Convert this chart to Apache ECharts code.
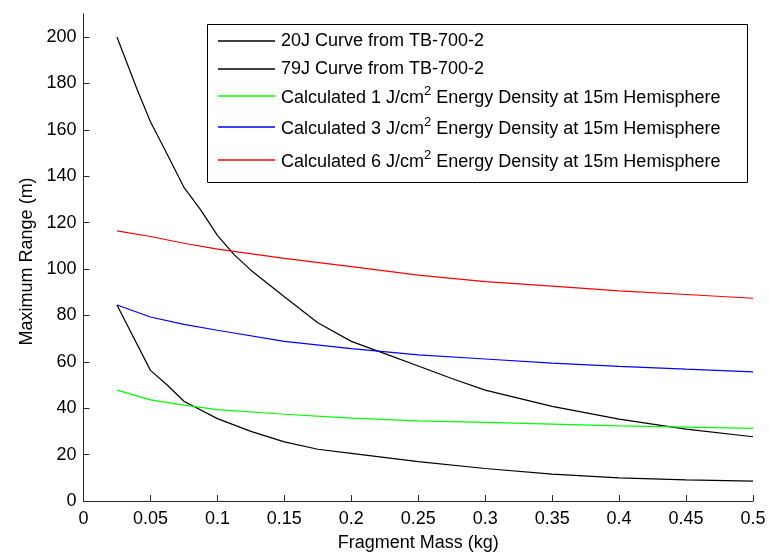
<!DOCTYPE html>
<html>
<head>
<meta charset="utf-8">
<script src="https://cdn.jsdelivr.net/npm/echarts@6/dist/echarts.min.js"></script>
<style>
  html, body { margin: 0; padding: 0; background: #fff; }
  #chart { width: 769px; height: 553px; }
</style>
</head>
<body>
<div id="chart"></div>
<script>
// values
const mass20J = [0.025, 0.04, 0.05, 0.0625, 0.075, 0.0875, 0.1, 0.1125, 0.125, 0.15, 0.175, 0.2, 0.225, 0.25, 0.275, 0.3, 0.35, 0.4, 0.45, 0.5];
const range20J = [200, 177.5, 163.5, 149.5, 135.2, 125.5, 114.5, 106.2, 99.5, 88, 76.8, 68.8, 63.5, 58.2, 52.8, 47.8, 40.8, 35.3, 31, 27.7];

const mass79J = [0.025, 0.05, 0.0625, 0.075, 0.1, 0.125, 0.15, 0.175, 0.2, 0.25, 0.3, 0.35, 0.4, 0.45, 0.5];
const range79J = [84.5, 56.3, 50, 43, 35.5, 30, 25.5, 22.3, 20.5, 17, 14, 11.6, 10, 9.1, 8.6];

const massCalc = [0.025, 0.05, 0.075, 0.1, 0.15, 0.2, 0.25, 0.3, 0.35, 0.4, 0.45, 0.5];
const range1J = [47.8, 43.6, 41.3, 39.4, 37.4, 35.7, 34.5, 33.9, 33.1, 32.4, 31.8, 31.3];
const range3J = [84.5, 79.3, 76.1, 73.6, 68.8, 65.7, 63, 61.2, 59.4, 58, 56.8, 55.7];
const range6J = [116.4, 114, 111.1, 108.6, 104.6, 101, 97.4, 94.6, 92.6, 90.6, 89, 87.4];

const xTicks = [0, 0.05, 0.1, 0.15, 0.2, 0.25, 0.3, 0.35, 0.4, 0.45, 0.5];
const yTicks = [0, 20, 40, 60, 80, 100, 120, 140, 160, 180, 200];

const seriesNames = [
  '20J Curve from TB-700-2',
  '79J Curve from TB-700-2',
  'Calculated 1 J/cm2 Energy Density at 15m Hemisphere',
  'Calculated 3 J/cm2 Energy Density at 15m Hemisphere',
  'Calculated 6 J/cm2 Energy Density at 15m Hemisphere'
];

const zip = (xs, ys) => xs.map((x, i) => [x, ys[i]]);

const font = 'Arial, "Liberation Sans", sans-serif';
const axisColor = '#262626';

const chart = echarts.init(document.getElementById('chart'));

function lineSeries(name, data, color) {
  return {
    name: name,
    type: 'line',
    data: data,
    symbol: 'none',
    silent: true,
    lineStyle: { color: color, width: 1.2 },
    itemStyle: { color: color },
    z: 2
  };
}

// one legend per row so the rows sit where the original ones do
const legendTops = [32, 60, 85, 116, 149];
const legends = seriesNames.map((name, i) => ({
  data: [name],
  left: 218,
  top: legendTops[i],
  orient: 'vertical',
  padding: 0,
  icon: 'rect',
  itemWidth: 57,
  itemHeight: 1.3,
  itemGap: 0,
  z: 6,
  selectedMode: false,
  formatter: function (n) {
    const m = n.match(/^(.*J\/cm)2(.*)$/);
    if (m) return '{t|' + m[1] + '}{s|2}{t|' + m[2] + '}';
    return '{t|' + n + '}';
  },
  textStyle: {
    color: '#000',
    fontFamily: font,
    padding: [0, 0, 0, 1],
    rich: {
      t: { fontSize: 18, fontFamily: font, color: '#000', verticalAlign: 'bottom' },
      s: { fontSize: 13, fontFamily: font, color: '#000', verticalAlign: 'bottom', padding: [0, 0, 9, 0] }
    }
  }
}));

const option = {
  animation: false,
  backgroundColor: '#fff',
  grid: { left: 83.5, right: 16, top: 13.8, bottom: 52, outerBoundsMode: 'none' },
  graphic: [{
    type: 'rect',
    z: 5,
    shape: { x: 207.5, y: 24.5, width: 540, height: 158 },
    style: { fill: '#fff', stroke: '#000', lineWidth: 1 }
  }],
  legend: legends,
  xAxis: {
    type: 'value',
    min: 0,
    max: 0.5,
    interval: 0.05,
    name: 'Fragment Mass (kg)',
    nameLocation: 'middle',
    nameGap: 33,
    nameTextStyle: { fontSize: 18, fontFamily: font, color: '#000' },
    axisLine: { show: true, lineStyle: { color: axisColor, width: 1 } },
    axisTick: { show: true, inside: true, length: 6, lineStyle: { color: axisColor }, customValues: xTicks },
    axisLabel: { fontSize: 18, fontFamily: font, color: '#000', margin: 9, customValues: xTicks },
    splitLine: { show: false }
  },
  yAxis: {
    type: 'value',
    min: 0,
    max: 210,
    interval: 20,
    name: 'Maximum Range (m)',
    nameLocation: 'middle',
    nameGap: 47,
    nameTextStyle: { fontSize: 18, fontFamily: font, color: '#000', padding: [0, 8, 0, 0] },
    axisLine: { show: true, lineStyle: { color: axisColor, width: 1 } },
    axisTick: { show: true, inside: true, length: 6, lineStyle: { color: axisColor }, customValues: yTicks },
    axisLabel: { fontSize: 18, fontFamily: font, color: '#000', margin: 7, customValues: yTicks },
    splitLine: { show: false }
  },
  series: [
    lineSeries(seriesNames[0], zip(mass20J, range20J), '#000000'),
    lineSeries(seriesNames[1], zip(mass79J, range79J), '#000000'),
    lineSeries(seriesNames[2], zip(massCalc, range1J), '#00ff00'),
    lineSeries(seriesNames[3], zip(massCalc, range3J), '#0000ff'),
    lineSeries(seriesNames[4], zip(massCalc, range6J), '#ff0000')
  ]
};

chart.setOption(option);
</script>
</body>
</html>
